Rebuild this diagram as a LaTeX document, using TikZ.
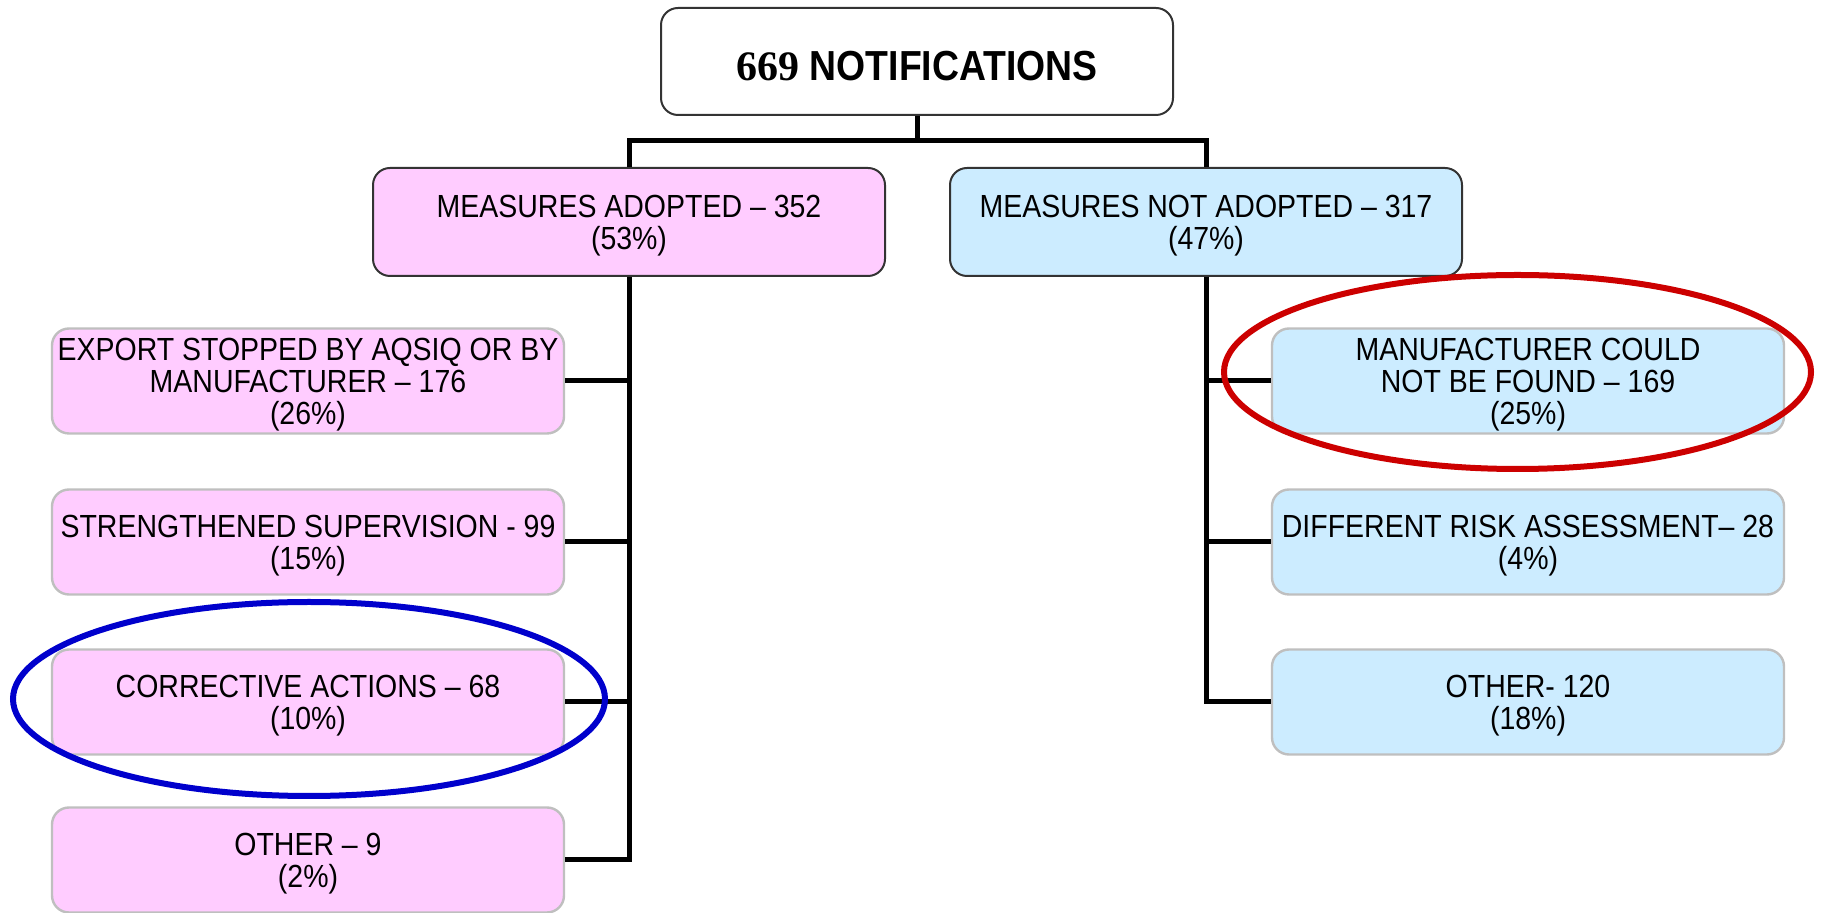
\documentclass[tikz,border=0pt]{standalone}
\usepackage{fontspec}
\setmainfont{Liberation Sans}[FakeStretch=0.89]
\newfontfamily\digitfont{Liberation Serif}
\definecolor{adoptpink}{HTML}{FFCCFF}
\definecolor{notblue}{HTML}{CCECFF}
\definecolor{ringred}{HTML}{CC0000}
\definecolor{ringblue}{HTML}{0000CC}
% taller first line pushes the text a little lower in its box
\newcommand\toppad{\rule{0pt}{15.3pt}}

\begin{document}
\begin{tikzpicture}[x=0.5pt,y=-0.5pt,
    box/.style={rectangle, rounded corners=8.5pt, minimum width=256pt, minimum height=52.5pt,
        inner sep=0pt, align=center, font=\fontsize{16pt}{16pt}\selectfont},
    headbox/.style={box, draw=black!80, line width=1pt, minimum height=54pt},
    leafbox/.style={box, draw=black!25, line width=1.2pt},
    link/.style={line width=2.5pt, line join=miter},
    ring/.style={line width=3pt}]
    \useasboundingbox (0,0) rectangle (1821,913);

    \node[headbox, fill=white, minimum height=53.5pt, font=\bfseries\fontsize{21pt}{24pt}\selectfont]
        (total) at (917,61.5) {\rule{0pt}{18.8pt}{\digitfont 669} NOTIFICATIONS};

    \node[headbox, fill=adoptpink] (adopt) at (629,222) {\toppad MEASURES ADOPTED – 352\\(53\%)};
    \node[headbox, fill=notblue] (notadopt) at (1206,222) {\toppad MEASURES NOT ADOPTED – 317\\(47\%)};

    \node[leafbox, fill=adoptpink] (export) at (308,381) {\toppad EXPORT STOPPED BY AQSIQ OR BY\\MANUFACTURER – 176\\(26\%)};
    \node[leafbox, fill=adoptpink] (supervision) at (308,542) {\toppad STRENGTHENED SUPERVISION - 99\\(15\%)};
    \node[leafbox, fill=adoptpink] (corrective) at (308,702) {\toppad CORRECTIVE ACTIONS – 68\\(10\%)};
    \node[leafbox, fill=adoptpink] (otheradopt) at (308,860) {\toppad OTHER – 9\\(2\%)};

    \node[leafbox, fill=notblue] (notfound) at (1528,381) {\toppad MANUFACTURER COULD\\NOT BE FOUND – 169\\(25\%)};
    \node[leafbox, fill=notblue] (riskdiff) at (1528,542) {\toppad DIFFERENT RISK ASSESSMENT– 28\\(4\%)};
    \node[leafbox, fill=notblue] (othernot) at (1528,702) {\toppad OTHER- 120\\(18\%)};

    % tree lines
    \coordinate (split) at (917,141);
    \draw[link] (total.south) -- (split);
    \draw[link] (adopt.north) |- (split) -| (notadopt.north);

    \draw[link] (adopt.south) |- (otheradopt.east);
    \foreach \n in {export,supervision,corrective}
        \draw[link] (\n.east) -- (\n.east -| adopt.south);

    \draw[link] (notadopt.south) |- (othernot.west);
    \foreach \n in {notfound,riskdiff}
        \draw[link] (\n.west) -- (\n.west -| notadopt.south);

    % highlights
    \draw[ring, ringred] (1517.5,372) ellipse [x radius=146.75pt, y radius=48.5pt];
    \draw[ring, ringblue] (309,699) ellipse [x radius=148pt, y radius=48.5pt];
\end{tikzpicture}
\end{document}
